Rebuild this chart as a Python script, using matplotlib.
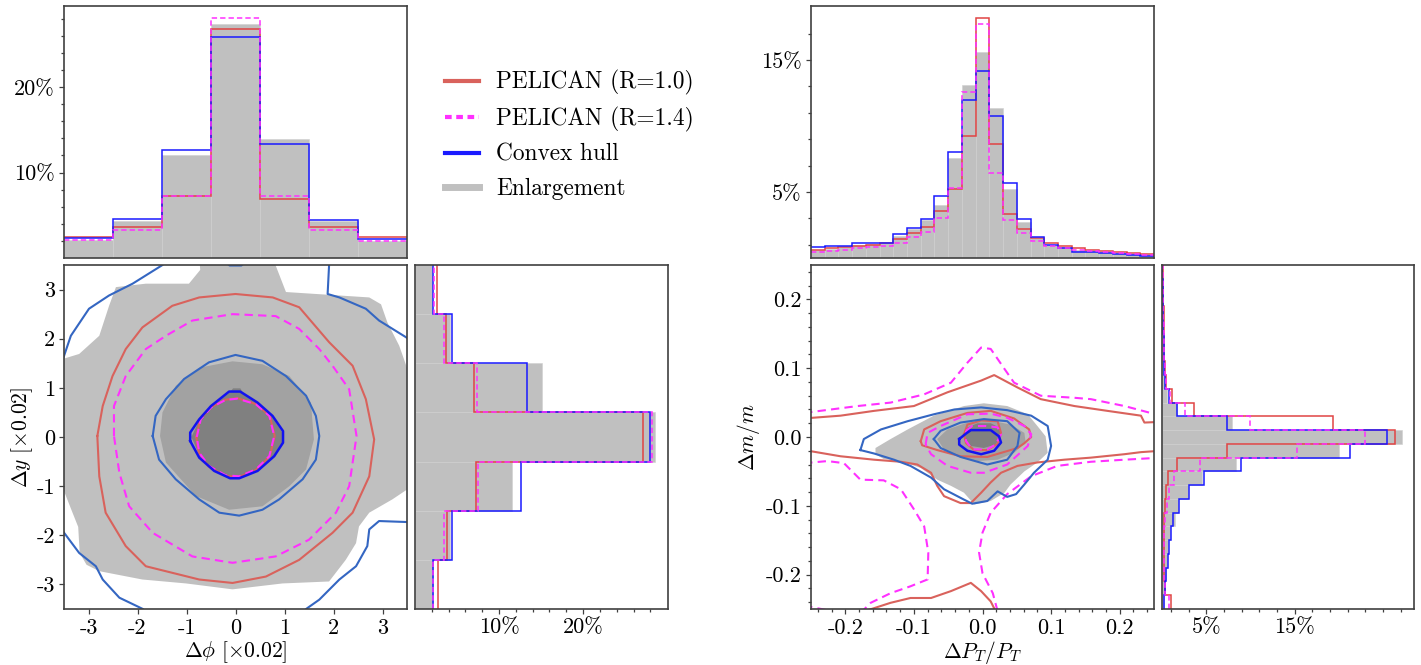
import numpy as np
import matplotlib
matplotlib.use("Agg")
import matplotlib.pyplot as plt
from matplotlib.lines import Line2D

plt.rcParams['font.family'] = ['cmr10', 'DejaVu Serif']
plt.rcParams['mathtext.fontset'] = 'cm'
plt.rcParams['axes.unicode_minus'] = False
plt.rcParams['axes.formatter.use_mathtext'] = True

# ---------------- data: left block (delta phi / delta y) ----------------
phi_edges = [-3.5, -2.5, -1.5, -0.5, 0.5, 1.5, 2.5, 3.5]
phi_enl = [2.1, 4.3, 12.0, 27.4, 13.9, 4.3, 2.0]
phi_hull = [2.3, 4.6, 12.6, 25.9, 13.4, 4.4, 2.2]
phi_r10 = [2.5, 3.6, 7.2, 26.8, 6.9, 3.6, 2.4]
phi_r14 = [2.05, 3.3, 7.3, 28.1, 7.2, 3.3, 2.0]

y_edges = [-3.5, -2.5, -1.5, -0.5, 0.5, 1.5, 2.5, 3.5]
y_enl = [2.2, 4.2, 11.5, 28.6, 15.1, 4.2, 2.0]
y_hull = [2.2, 4.4, 12.6, 27.9, 13.3, 4.4, 2.1]
y_r10 = [2.7, 3.8, 7.3, 27.1, 7.0, 3.7, 2.6]
y_r14 = [2.2, 3.5, 7.5, 28.2, 7.4, 3.4, 2.3]

# contours of the 2D (delta phi, delta y) distribution
enl_L_outer = [(-0.75, 3.8), (-0.72, 3.4), (-0.95, 3.12), (-1.83, 3.12), (-2.44, 3.05),
               (-2.58, 2.67), (-2.78, 2.06), (-3.19, 1.69), (-3.55, 1.58), (-3.8, 1.5),
               (-3.8, -1.05), (-3.5, -1.1), (-3.35, -1.48), (-3.21, -1.83), (-3.18, -2.36),
               (-3.04, -2.6), (-2.78, -2.73), (-1.9, -2.9), (-1.01, -2.98), (-0.06, -3.1),
               (0.96, -2.98), (1.91, -2.94), (2.25, -2.5), (2.46, -2.16), (2.52, -1.82),
               (2.73, -1.54), (3.2, -1.27), (3.5, -1.07), (3.8, -1.0), (3.8, 1.3),
               (3.51, 1.38), (3.34, 1.86), (3.1, 2.33), (2.97, 2.7), (2.73, 2.84),
               (1.03, 2.95), (0.82, 3.49), (0.85, 3.8)]
enl_L_mid = [(-1.54, 0.02), (-1.49, 0.50), (-1.22, 1.04), (-0.74, 1.41), (-0.06, 1.54),
             (0.55, 1.48), (1.10, 1.24), (1.54, 0.70), (1.6, -0.05), (1.44, -0.66),
             (1.1, -1.0), (0.55, -1.41), (-0.13, -1.48), (-0.81, -1.2), (-1.42, -0.52)]
enl_L_in = [(-0.9, 0.0), (-0.72, 0.38), (-0.48, 0.64), (-0.12, 0.9), (-0.05, 0.99),
            (0.1, 0.99), (0.15, 0.9), (0.45, 0.68), (0.74, 0.42), (0.95, 0.1),
            (0.95, -0.12), (0.77, -0.4), (0.44, -0.67), (0.07, -0.82), (-0.11, -0.82),
            (-0.43, -0.67), (-0.72, -0.41)]
hull_L_in = [(-0.925, -0.08), (-0.925, 0.09), (-0.74, 0.36), (-0.50, 0.63), (-0.13, 0.925),
             (0.095, 0.925), (0.45, 0.70), (0.755, 0.43), (0.97, 0.12), (0.97, -0.115),
             (0.79, -0.39), (0.45, -0.69), (0.075, -0.84), (-0.11, -0.84), (-0.435, -0.69),
             (-0.74, -0.42)]
hull_L_mid = [(-1.69, 0.02), (-1.63, 0.43), (-1.42, 0.77), (-1.05, 1.18), (-0.54, 1.52),
              (0.0, 1.67), (0.55, 1.55), (1.03, 1.24), (1.44, 0.84), (1.64, 0.43),
              (1.71, 0.02), (1.64, -0.46), (1.37, -0.86), (0.89, -1.27), (0.55, -1.48),
              (0.075, -1.6), (-0.33, -1.54), (-0.74, -1.27), (-1.22, -0.86), (-1.56, -0.46)]
hull_L_out_tl = [(-3.7, 1.45), (-3.52, 1.59), (-3.36, 2.06), (-2.99, 2.61), (-2.58, 2.88),
                 (-2.1, 3.12), (-1.49, 3.5), (-1.4, 3.6)]
hull_L_out_top = [(-0.25, 3.6), (-0.12, 3.49), (0.12, 3.49), (0.25, 3.6)]
hull_L_out_tr = [(1.92, 3.6), (1.91, 3.5), (1.88, 2.91), (2.12, 2.84), (2.66, 2.61),
                 (2.93, 2.37), (3.48, 2.03), (3.6, 1.95)]
hull_L_out_br = [(3.6, -1.73), (3.49, -1.73), (2.93, -1.71), (2.73, -1.88), (2.69, -2.22),
                 (2.46, -2.63), (2.12, -2.9), (1.71, -3.31), (1.44, -3.5), (1.35, -3.6)]
hull_L_out_bl = [(-3.6, -1.82), (-3.52, -1.92), (-3.19, -2.36), (-2.85, -2.63), (-2.71, -2.9),
                 (-2.37, -3.27), (-1.89, -3.5), (-1.8, -3.6)]
r10_L_out = [(-2.82, 0.02), (-2.71, 0.63), (-2.51, 1.24), (-2.24, 1.79), (-1.9, 2.23),
             (-1.29, 2.67), (-0.74, 2.84), (0.0, 2.91), (0.76, 2.84), (1.30, 2.64),
             (1.91, 1.93), (2.39, 1.45), (2.66, 0.77), (2.83, -0.05), (2.73, -0.8),
             (2.39, -1.54), (1.98, -1.95), (1.30, -2.5), (0.62, -2.84), (-0.06, -2.97),
             (-0.74, -2.9), (-1.83, -2.63), (-2.24, -2.22), (-2.65, -1.54), (-2.78, -0.8)]
r14_L_out = [(-2.48, 0.02), (-2.48, 0.63), (-2.24, 1.24), (-1.83, 1.79), (-1.42, 2.06),
             (-0.88, 2.37), (-0.06, 2.5), (0.82, 2.46), (1.3, 2.2), (1.71, 1.79),
             (1.98, 1.45), (2.32, 0.97), (2.47, 0.02), (2.32, -1.0), (2.05, -1.54),
             (1.5, -2.09), (0.82, -2.43), (-0.06, -2.56), (-0.88, -2.43), (-1.69, -1.95),
             (-2.17, -1.41), (-2.37, -0.73)]
r14_L_in = [(-0.79, 0.0), (-0.71, 0.36), (-0.5, 0.6), (-0.2, 0.755), (0.04, 0.78),
            (0.415, 0.667), (0.69, 0.43), (0.79, 0.02), (0.69, -0.39), (0.415, -0.66),
            (0.075, -0.8), (-0.2, -0.78), (-0.54, -0.59), (-0.74, -0.32)]
r10_L_in = [(-0.8, 0.0), (-0.72, 0.36), (-0.5, 0.61), (-0.2, 0.76), (0.04, 0.79),
            (0.42, 0.67), (0.7, 0.43), (0.8, 0.02), (0.7, -0.39), (0.42, -0.67),
            (0.075, -0.81), (-0.2, -0.79), (-0.55, -0.6), (-0.75, -0.32)]

# ---------------- data: right block (delta pT/pT, delta m/m) ----------------
pt_edges = list(np.round(np.arange(-0.25, 0.2501, 0.02), 2))
pt_enl = [0.6, 0.7, 0.8, 0.95, 1.05, 1.1, 1.65, 2.2, 2.9, 4.0, 7.6, 13.1, 15.6, 11.4,
          5.25, 2.75, 1.5, 1.0, 0.8, 0.6, 0.5, 0.45, 0.38, 0.3, 0.25]
pt_hull = [0.8, 0.88, 0.93, 1.1, 1.17, 1.17, 1.8, 2.28, 2.94, 4.7, 8.04, 11.98, 14.17, 10.78,
           5.7, 2.94, 1.58, 1.0, 0.73, 0.43, 0.43, 0.38, 0.3, 0.23, 0.18]
pt_r10 = [0.63, 0.73, 0.8, 0.88, 1.0, 1.13, 1.43, 1.9, 2.36, 3.54, 5.25, 9.27, 18.2, 8.64,
          3.37, 2.19, 1.52, 1.13, 0.88, 0.73, 0.63, 0.5, 0.43, 0.38, 0.3]
pt_r14 = [0.47, 0.55, 0.62, 0.73, 0.8, 0.93, 1.1, 1.6, 1.95, 3.0, 5.3, 12.6, 17.7, 6.46,
          2.86, 1.86, 1.27, 0.93, 0.73, 0.6, 0.5, 0.43, 0.38, 0.33, 0.26]

m_edges = list(np.round(np.arange(-0.25, 0.2501, 0.02), 2))
m_enl = [0.2, 0.35, 0.45, 0.55, 0.7, 0.9, 1.5, 1.8, 2.9, 4.5, 8.4, 20.0, 27.1, 7.9,
         1.7, 0.6, 0.35, 0.25, 0.2, 0.2, 0.15, 0.15, 0.1, 0.1, 0.05]
m_hull = [0.26, 0.38, 0.5, 0.64, 0.75, 1.0, 1.24, 1.88, 3.0, 4.7, 8.95, 21.3, 25.45, 7.4,
          1.7, 0.75, 0.38, 0.26, 0.2, 0.2, 0.15, 0.15, 0.1, 0.1, 0.05]
m_r10 = [1.0, 0.38, 0.25, 0.2, 0.2, 0.2, 0.25, 0.38, 0.5, 0.64, 1.7, 7.4, 26.4, 19.3,
         3.65, 1.13, 0.5, 0.38, 0.2, 0.25, 0.2, 0.2, 0.15, 0.1, 0.1]
m_r14 = [0.83, 0.38, 0.25, 0.2, 0.2, 0.25, 0.35, 0.6, 0.83, 1.4, 4.25, 15.3, 23.0, 9.96,
         2.56, 0.94, 0.45, 0.3, 0.2, 0.2, 0.2, 0.15, 0.15, 0.1, 0.1]

enl_R_outer = [(-0.156, -0.016), (-0.134, -0.003), (-0.109, 0.011), (-0.071, 0.031),
               (-0.027, 0.045), (0.002, 0.049), (0.036, 0.045), (0.066, 0.033),
               (0.080, 0.016), (0.092, 0.001), (0.095, -0.023), (0.080, -0.037),
               (0.061, -0.050), (0.041, -0.069), (0.032, -0.081), (0.012, -0.093),
               (-0.012, -0.098), (-0.027, -0.081), (-0.046, -0.071), (-0.066, -0.062),
               (-0.090, -0.045), (-0.119, -0.035), (-0.144, -0.032), (-0.156, -0.025)]
enl_R_mid = [(-0.066, -0.003), (-0.051, 0.011), (-0.022, 0.021), (0.012, 0.024),
             (0.041, 0.018), (0.061, 0.006), (0.063, -0.008), (0.046, -0.023),
             (0.022, -0.033), (-0.007, -0.035), (-0.036, -0.028), (-0.056, -0.018)]
enl_R_in = [(-0.027, 0.001), (-0.022, 0.014), (-0.007, 0.020), (0.012, 0.020),
            (0.024, 0.014), (0.027, 0.001), (0.019, -0.011), (0.002, -0.016),
            (-0.017, -0.013)]
hull_R_out = [(-0.178, -0.019), (-0.173, -0.003), (-0.148, 0.011), (-0.109, 0.023),
              (-0.071, 0.033), (-0.041, 0.040), (-0.002, 0.043), (0.036, 0.039),
              (0.071, 0.031), (0.095, 0.016), (0.100, -0.013), (0.095, -0.033),
              (0.075, -0.052), (0.061, -0.069), (0.049, -0.083), (0.036, -0.087),
              (0.022, -0.079), (0.007, -0.093), (-0.015, -0.097), (-0.027, -0.091),
              (-0.056, -0.076), (-0.075, -0.059), (-0.105, -0.042), (-0.129, -0.033),
              (-0.158, -0.024)]
hull_R_mid = [(-0.071, -0.003), (-0.061, 0.009), (-0.032, 0.021), (0.002, 0.026),
              (0.036, 0.023), (0.054, 0.006), (0.051, -0.013), (0.036, -0.033),
              (0.007, -0.040), (-0.032, -0.029), (-0.061, -0.016)]
hull_R_in = [(-0.034, -0.003), (-0.024, 0.005), (-0.017, 0.010), (0.012, 0.010),
             (0.024, 0.001), (0.027, -0.008), (0.017, -0.020), (-0.002, -0.025),
             (-0.022, -0.020), (-0.034, -0.011)]
r10_R_up = [(-0.26, 0.027), (-0.207, 0.031), (-0.158, 0.038), (-0.1, 0.045), (-0.051, 0.065),
            (-0.002, 0.082), (0.017, 0.09), (0.051, 0.072), (0.085, 0.055), (0.134, 0.045),
            (0.182, 0.038), (0.231, 0.031), (0.236, 0.021), (0.26, 0.022)]
r10_R_low = [(-0.26, -0.019), (-0.207, -0.028), (-0.158, -0.033), (-0.119, -0.036),
             (-0.095, -0.040), (-0.075, -0.052), (-0.066, -0.071), (-0.056, -0.086),
             (-0.032, -0.096), (-0.017, -0.096), (-0.002, -0.081), (0.012, -0.066),
             (0.027, -0.052), (0.051, -0.042), (0.080, -0.037), (0.119, -0.033),
             (0.158, -0.030), (0.207, -0.025), (0.231, -0.022), (0.26, -0.020)]
r10_R_tail = [(-0.168, -0.252), (-0.134, -0.241), (-0.105, -0.234), (-0.075, -0.234),
              (-0.046, -0.224), (-0.017, -0.212), (-0.002, -0.224), (0.012, -0.239),
              (0.019, -0.253)]
r10_R_mid = [(-0.090, -0.006), (-0.085, 0.011), (-0.061, 0.023), (-0.022, 0.035),
             (0.012, 0.038), (0.046, 0.027), (0.068, 0.011), (0.071, 0.0), (0.061, -0.009),
             (0.051, -0.016), (0.007, -0.029), (-0.032, -0.028), (-0.066, -0.019),
             (-0.088, -0.012)]
r10_R_in = [(-0.027, 0.004), (-0.022, 0.018), (-0.002, 0.024), (0.022, 0.023),
            (0.027, 0.006), (0.022, -0.010), (0.007, -0.019), (-0.012, -0.019),
            (-0.024, -0.009)]
r14_R_up = [(-0.26, 0.035), (-0.182, 0.045), (-0.134, 0.05), (-0.085, 0.062), (-0.046, 0.079),
            (-0.022, 0.108), (-0.002, 0.130), (0.012, 0.128), (0.032, 0.099), (0.046, 0.079),
            (0.085, 0.06), (0.134, 0.057), (0.158, 0.055), (0.207, 0.045), (0.26, 0.031)]
r14_R_low_l = [(-0.26, -0.038), (-0.226, -0.035), (-0.202, -0.038), (-0.178, -0.062),
               (-0.144, -0.063), (-0.119, -0.076), (-0.100, -0.105), (-0.085, -0.130),
               (-0.079, -0.168), (-0.080, -0.207), (-0.105, -0.217), (-0.134, -0.227),
               (-0.163, -0.241), (-0.175, -0.253)]
r14_R_low_r = [(0.022, -0.253), (0.015, -0.227), (0.0, -0.198), (-0.005, -0.168),
               (0.0, -0.139), (0.012, -0.110), (0.036, -0.083), (0.071, -0.057),
               (0.109, -0.042), (0.158, -0.036), (0.207, -0.033), (0.26, -0.030)]
r14_R_corner = [(-0.26, -0.245), (-0.22, -0.253)]
r14_R_mid = [(-0.083, -0.011), (-0.080, 0.006), (-0.061, 0.016), (-0.022, 0.033),
             (0.012, 0.034), (0.036, 0.028), (0.061, 0.016), (0.071, 0.004), (0.066, -0.013),
             (0.036, -0.040), (0.002, -0.052), (-0.017, -0.052), (-0.051, -0.042),
             (-0.075, -0.025)]
r14_R_in = [(-0.024, 0.009), (-0.015, 0.016), (0.005, 0.016), (0.022, 0.014),
            (0.027, 0.004), (0.019, -0.011), (0.007, -0.018), (-0.015, -0.018),
            (-0.024, -0.006)]

legend_labels = ['PELICAN (R=1.0)', 'PELICAN (R=1.4)', 'Convex hull', 'Enlargement']

# ---------------- styling ----------------
C_RED_H = '#e04444'
C_RED_C = '#d9625c'
C_MAG = '#ff30ff'
C_BLUE_H = '#1a1aff'
C_BLUE_C = '#3466c2'
C_BLUE_IN = '#1212f0'
C_G1 = '#c0c0c0'
C_G2 = '#a2a2a2'
C_G3 = '#808080'
SPINE = '#404040'
FS_TICK = 16
FS_LAB = 15.5
FS_LEG = 16.8

W, H = 1421, 665
fig = plt.figure(figsize=(W / 100, H / 100), dpi=100)


def rect(x0, y0, x1, y1):
    return [x0 / W, 1 - y1 / H, (x1 - x0) / W, (y1 - y0) / H]


axLT = fig.add_axes(rect(64, 6, 407, 258))
axLM = fig.add_axes(rect(64, 265, 407, 609))
axLR = fig.add_axes(rect(415, 265, 668, 609))
axLeg = fig.add_axes(rect(415, 6, 668, 258))
axRT = fig.add_axes(rect(811, 6, 1154, 258))
axRM = fig.add_axes(rect(811, 265, 1154, 609))
axRR = fig.add_axes(rect(1162, 265, 1414, 609))

for ax in [axLT, axLM, axLR, axRT, axRM, axRR]:
    for s in ax.spines.values():
        s.set_color(SPINE)
        s.set_linewidth(1.2)
    ax.tick_params(which='both', direction='out', color=SPINE, labelsize=FS_TICK, width=0.9)
    ax.tick_params(which='major', length=3.5, pad=3)
    ax.tick_params(which='minor', length=2)


def vhist(ax, edges, enl, hull, r10, r14):
    e = np.asarray(edges)
    ax.bar(e[:-1], enl, width=np.diff(e), align='edge', color=C_G1, edgecolor='#cfcfcf', linewidth=0.4)
    ax.stairs(r10, e, color=C_RED_H, lw=1.1, baseline=None)
    ax.stairs(hull, e, color=C_BLUE_H, lw=1.1, baseline=None)
    ax.stairs(r14, e, color=C_MAG, lw=1.1, ls=(0, (3.5, 2)), baseline=None)


def hhist(ax, edges, enl, hull, r10, r14):
    e = np.asarray(edges)
    ax.barh(e[:-1], enl, height=np.diff(e), align='edge', color=C_G1, edgecolor='#cfcfcf', linewidth=0.4)
    ax.stairs(r10, e, color=C_RED_H, lw=1.1, baseline=None, orientation='horizontal')
    ax.stairs(hull, e, color=C_BLUE_H, lw=1.1, baseline=None, orientation='horizontal')
    ax.stairs(r14, e, color=C_MAG, lw=1.1, ls=(0, (3.5, 2)), baseline=None, orientation='horizontal')


def fill(ax, pts, color):
    p = np.asarray(pts)
    ax.fill(p[:, 0], p[:, 1], color=color, lw=0)


def line(ax, pts, color, closed=True, dashed=False, lw=1.5):
    p = np.asarray(pts)
    if closed:
        p = np.vstack([p, p[:1]])
    ax.plot(p[:, 0], p[:, 1], color=color, lw=lw, ls=(0, (4, 2.5)) if dashed else '-',
            solid_joinstyle='round', dash_joinstyle='round')


# ---- left top histogram ----
vhist(axLT, phi_edges, phi_enl, phi_hull, phi_r10, phi_r14)
axLT.set_xlim(-3.5, 3.5)
axLT.set_ylim(0, 29.5)
axLT.set_xticks([])
axLT.set_yticks([10, 20])
axLT.set_yticklabels(['10%', '20%'])
axLT.set_yticks([2, 4, 6, 8, 12, 14, 16, 18, 22, 24, 26, 28], minor=True)

# ---- left main ----
fill(axLM, enl_L_outer, C_G1)
fill(axLM, enl_L_mid, C_G2)
fill(axLM, enl_L_in, C_G3)
line(axLM, r10_L_out, C_RED_C)
line(axLM, r10_L_in, C_RED_C)
line(axLM, r14_L_out, C_MAG, dashed=True)
line(axLM, r14_L_in, C_MAG, dashed=True)
line(axLM, hull_L_mid, C_BLUE_C)
line(axLM, hull_L_in, C_BLUE_IN, lw=1.8)
for seg in [hull_L_out_tl, hull_L_out_top, hull_L_out_tr, hull_L_out_br, hull_L_out_bl]:
    line(axLM, seg, C_BLUE_C, closed=False)
axLM.set_xlim(-3.5, 3.5)
axLM.set_ylim(-3.5, 3.5)
ticks = [-3, -2, -1, 0, 1, 2, 3]
tick_labels = ['-3', '-2', '-1', '0', '1', '2', '3']
axLM.set_xticks(ticks)
axLM.set_xticklabels(tick_labels)
axLM.set_yticks(ticks)
axLM.set_yticklabels(tick_labels)
axLM.set_xlabel(r'$\Delta\phi\ [\times0.02]$', fontsize=FS_LAB, labelpad=1)
axLM.set_ylabel(r'$\Delta y\ [\times0.02]$', fontsize=FS_LAB, labelpad=1)

# ---- left right histogram ----
hhist(axLR, y_edges, y_enl, y_hull, y_r10, y_r14)
axLR.set_ylim(-3.5, 3.5)
axLR.set_xlim(0, 30.1)
axLR.set_yticks([])
axLR.set_xticks([10, 20])
axLR.set_xticklabels(['10%', '20%'])
axLR.set_xticks([2, 4, 6, 8, 12, 14, 16, 18, 22, 24, 26, 28], minor=True)

# ---- legend ----
axLeg.axis('off')
handles = [Line2D([], [], color=C_RED_C, lw=3),
           Line2D([], [], color=C_MAG, lw=3, ls=(0, (1.6, 1.1))),
           Line2D([], [], color=C_BLUE_H, lw=3),
           Line2D([], [], color=C_G1, lw=5)]
axLeg.legend(handles, legend_labels, loc='upper left', bbox_to_anchor=(0.082, 0.782),
             frameon=False, fontsize=FS_LEG, handlelength=1.46, handletextpad=0.73,
             labelspacing=0.5, borderaxespad=0)

# ---- right top histogram ----
vhist(axRT, pt_edges, pt_enl, pt_hull, pt_r10, pt_r14)
axRT.set_xlim(-0.25, 0.25)
axRT.set_ylim(0, 19.1)
axRT.set_xticks([])
axRT.set_yticks([5, 15])
axRT.set_yticklabels(['5%', '15%'])
axRT.set_yticks([1, 3, 7, 9, 11, 13, 17], minor=True)

# ---- right main ----
fill(axRM, enl_R_outer, C_G1)
fill(axRM, enl_R_mid, C_G2)
fill(axRM, enl_R_in, C_G3)
for seg in [r10_R_up, r10_R_low, r10_R_tail]:
    line(axRM, seg, C_RED_C, closed=False)
line(axRM, r10_R_mid, C_RED_C)
line(axRM, r10_R_in, C_RED_C)
for seg in [r14_R_up, r14_R_low_l, r14_R_low_r, r14_R_corner]:
    line(axRM, seg, C_MAG, closed=False, dashed=True)
line(axRM, r14_R_mid, C_MAG, dashed=True)
line(axRM, r14_R_in, C_MAG, dashed=True)
line(axRM, hull_R_out, C_BLUE_C)
line(axRM, hull_R_mid, C_BLUE_C)
line(axRM, hull_R_in, C_BLUE_IN, lw=1.8)
axRM.set_xlim(-0.25, 0.25)
axRM.set_ylim(-0.25, 0.25)
rticks = [-0.2, -0.1, 0.0, 0.1, 0.2]
rtick_labels = ['-0.2', '-0.1', '0.0', '0.1', '0.2']
rminor = [v for v in np.round(np.arange(-0.24, 0.2401, 0.02), 2) if round(v * 10, 6) % 1 != 0]
axRM.set_xticks(rticks)
axRM.set_xticklabels(rtick_labels)
axRM.set_yticks(rticks)
axRM.set_yticklabels(rtick_labels)
axRM.set_xticks(rminor, minor=True)
axRM.set_yticks(rminor, minor=True)
axRM.set_xlabel(r'$\Delta P_T/P_T$', fontsize=FS_LAB, labelpad=1)
axRM.set_ylabel(r'$\Delta m/m$', fontsize=FS_LAB, labelpad=3)

# ---- right right histogram ----
hhist(axRR, m_edges, m_enl, m_hull, m_r10, m_r14)
axRR.set_ylim(-0.25, 0.25)
axRR.set_xlim(0, 28.5)
axRR.set_yticks([])
axRR.set_xticks([5, 15])
axRR.set_xticklabels(['5%', '15%'])
axRR.set_xticks([1, 3, 7, 9, 11, 13, 17, 19, 21, 23, 25, 27], minor=True)

fig.savefig('out.png', dpi=100)
